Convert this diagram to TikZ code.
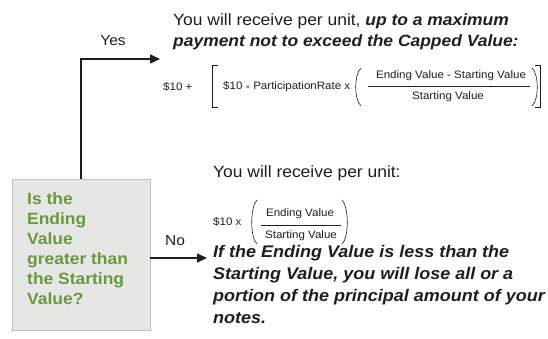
\documentclass[tikz,border=0pt]{standalone}
\usepackage{fontspec}
\setmainfont{Liberation Sans}[FakeStretch=1.07]
\usetikzlibrary{arrows.meta}
\definecolor{qgreen}{RGB}{106,152,60}
\definecolor{qfill}{RGB}{229,231,229}
\definecolor{qline}{RGB}{190,192,190}
\definecolor{ink}{RGB}{30,30,30}

\begin{document}
\begin{tikzpicture}[x=1pt,y=-1pt,
		every node/.style={inner sep=0pt,text=ink},
		arrow/.style={draw=ink,line width=1.5pt,-{Triangle[length=10pt,width=9pt]}},
		qbox/.style={draw=qline,fill=qfill,line width=0.8pt,minimum width=138pt,minimum height=151pt},
		qtext/.style={text=qgreen,font=\fontsize{16.3}{20}\selectfont\bfseries,align=left},
		body/.style={font=\fontsize{16.3}{21}\selectfont,align=left},
		note/.style={font=\fontsize{16.8}{22.2}\selectfont\bfseries\itshape,align=left},
		eq/.style={font=\fontsize{10.8}{13}\selectfont},
		choice/.style={font=\fontsize{14.5}{17}\selectfont},
		brack/.style={draw=ink,line width=0.6pt}]
		\useasboundingbox (0,0) rectangle (548,339);
		% question box
		\node [qbox] (q) at (81,254.5) {};
		\node [qtext,anchor=west] (qt) at (27,248.5) {Is the\\Ending\\Value\\greater than\\the Starting\\Value?};
		% branches
		\coordinate (yesend) at (160,59);
		\coordinate (noend) at (207,258);
		\draw [arrow] (q.north) |- (yesend);
		\draw [arrow] (q.east |- noend) -- (noend);
		\node [choice] (yes) at (113,41) {Yes};
		\node [choice] (no) at (175,241) {No};
		% yes outcome
		\node [body,anchor=west] (yestext) at (173,32) {You will receive per unit, \textbf{\textit{up to a maximum}}\\\textbf{\textit{payment not to exceed the Capped Value:}}};
		\node [eq,anchor=west] (ten1) at (163,87) {\$10 +};
		\draw [brack] (218,65) -- (212,65) -- (212,107) -- (218,107);
		\node [eq,anchor=west] (rate) at (223,87) {\$10 {\scriptsize×} ParticipationRate x};
		\draw [brack] (361,68) .. controls (354,74) and (354,100) .. (361,106);
		\node [eq] (num1) at (451,76) {Ending Value - Starting Value};
		\draw [brack] (368,86) -- (530,86);
		\node [eq] (den1) at (448,97) {Starting Value};
		\draw [brack] (532,68) .. controls (539,74) and (539,100) .. (532,106);
		\draw [brack] (535,65) -- (540,65) -- (540,107) -- (535,107);
		% no outcome
		\node [body,anchor=west] (notext) at (213,173) {You will receive per unit:};
		\node [eq,anchor=west] (ten2) at (213,222) {\$10 x};
		\draw [brack] (257,200) .. controls (250,207) and (250,238) .. (257,244);
		\node [eq] (num2) at (300,214) {Ending Value};
		\draw [brack] (261,225.5) -- (341,225.5);
		\node [eq] (den2) at (301,235.5) {Starting Value};
		\draw [brack] (342,200) .. controls (349,207) and (349,238) .. (342,244);
		\node [note,anchor=west] (loss) at (213,284.5) {If the Ending Value is less than the\\Starting Value, you will lose all or a\\portion of the principal amount of your\\notes.};
\end{tikzpicture}
\end{document}
